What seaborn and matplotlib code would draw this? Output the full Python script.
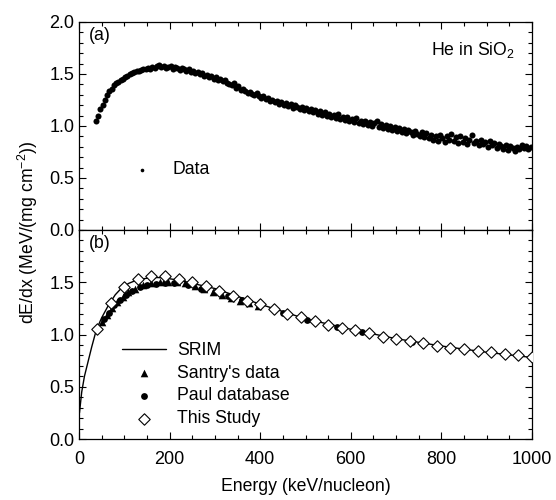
import numpy as np
import pandas as pd
import matplotlib
matplotlib.use('Agg')
import matplotlib.pyplot as plt
import seaborn as sns
from matplotlib.ticker import MultipleLocator

# Panel (a): measured stopping data, He in SiO2
data_energy = np.arange(37, 1000, 5)
data_value = [
    1.05, 1.10, 1.16, 1.20, 1.25, 1.30, 1.34, 1.36, 1.39, 1.41,
    1.42, 1.44, 1.45, 1.47, 1.48, 1.50, 1.51, 1.52, 1.53, 1.53,
    1.54, 1.55, 1.55, 1.56, 1.55, 1.57, 1.56, 1.58, 1.59, 1.57,
    1.58, 1.56, 1.57, 1.58, 1.55, 1.57, 1.56, 1.54, 1.56, 1.55,
    1.53, 1.55, 1.52, 1.53, 1.51, 1.52, 1.50, 1.51, 1.48, 1.49,
    1.47, 1.48, 1.45, 1.47, 1.44, 1.45, 1.43, 1.44, 1.41, 1.40,
    1.39, 1.41, 1.37, 1.38, 1.35, 1.36, 1.34, 1.32, 1.33, 1.31,
    1.30, 1.32, 1.29, 1.27, 1.29, 1.26, 1.27, 1.24, 1.25, 1.23,
    1.24, 1.21, 1.23, 1.20, 1.22, 1.19, 1.21, 1.17, 1.20, 1.18,
    1.16, 1.18, 1.15, 1.17, 1.14, 1.16, 1.13, 1.15, 1.12, 1.14,
    1.11, 1.13, 1.10, 1.12, 1.09, 1.11, 1.08, 1.12, 1.07, 1.09,
    1.06, 1.09, 1.05, 1.07, 1.04, 1.08, 1.03, 1.05, 1.02, 1.05,
    1.01, 1.04, 1.00, 1.03, 1.05, 0.99, 1.02, 0.98, 1.01, 0.97,
    1.00, 0.96, 0.99, 0.95, 0.98, 0.94, 0.97, 0.93, 0.96, 0.94,
    0.91, 0.95, 0.92, 0.90, 0.94, 0.89, 0.93, 0.88, 0.91, 0.87,
    0.90, 0.86, 0.91, 0.88, 0.85, 0.90, 0.87, 0.92, 0.86, 0.89,
    0.84, 0.90, 0.85, 0.88, 0.83, 0.87, 0.91, 0.84, 0.86, 0.82,
    0.87, 0.83, 0.85, 0.80, 0.86, 0.82, 0.84, 0.79, 0.83, 0.81,
    0.78, 0.82, 0.77, 0.81, 0.79, 0.76, 0.80, 0.78, 0.82, 0.79,
    0.81, 0.78, 0.80,
]

# Panel (b): SRIM curve
srim_energy = [1, 6, 12, 20, 28, 38, 50, 65, 80, 95, 110, 127, 145, 160,
               175, 190, 220, 250, 300, 400, 500, 600, 700, 800, 900, 1000]
srim_value = [0.25, 0.45, 0.60, 0.74, 0.88, 1.04, 1.16, 1.28, 1.38, 1.45,
              1.49, 1.52, 1.535, 1.545, 1.545, 1.54, 1.52, 1.49, 1.44,
              1.29, 1.15, 1.05, 0.96, 0.89, 0.83, 0.78]

# Santry's data
santry_energy = [50, 61, 72, 83, 98, 109, 124, 142, 160, 179, 197, 216,
                 234, 256, 275, 295, 315, 335, 355, 375, 395]
santry_value = [1.12, 1.19, 1.25, 1.31, 1.36, 1.41, 1.435, 1.47, 1.49,
                1.50, 1.505, 1.50, 1.49, 1.46, 1.44, 1.41, 1.38, 1.35,
                1.32, 1.30, 1.27]

# Paul database
paul_energy = [55, 66, 78, 90, 104, 118, 135, 150, 170, 190, 210, 240,
               270, 300, 330, 360, 400, 450, 503, 569, 625, 735]
paul_value = [1.15, 1.21, 1.28, 1.33, 1.38, 1.42, 1.45, 1.47, 1.48, 1.49,
              1.49, 1.47, 1.44, 1.41, 1.37, 1.33, 1.28, 1.21, 1.14, 1.07,
              1.02, 0.93]

# This study
study_energy = np.arange(40, 1001, 30)
study_value = [1.05, 1.30, 1.45, 1.53, 1.56, 1.56, 1.53, 1.50, 1.46, 1.42,
               1.37, 1.32, 1.29, 1.24, 1.20, 1.17, 1.13, 1.09, 1.06, 1.04,
               1.01, 0.98, 0.96, 0.94, 0.92, 0.89, 0.87, 0.86, 0.84, 0.83,
               0.81, 0.80, 0.78]

sns.set_theme(style='ticks')
plt.rcParams['font.family'] = ['Liberation Sans', 'DejaVu Sans']
plt.rcParams['mathtext.fontset'] = 'custom'
plt.rcParams['mathtext.rm'] = 'Liberation Sans'
plt.rcParams['mathtext.it'] = 'Liberation Sans'
plt.rcParams['axes.linewidth'] = 0.9
plt.rcParams['axes.edgecolor'] = 'black'
plt.rcParams['text.color'] = 'black'
plt.rcParams['axes.labelcolor'] = 'black'
plt.rcParams['xtick.color'] = 'black'
plt.rcParams['ytick.color'] = 'black'

fs = 13
fs_leg = 12.7

fig = plt.figure(figsize=(5.56, 5.0), dpi=100)
ax_a = fig.add_axes([79 / 556, 1 - 230 / 500, 453 / 556, 208 / 500])
ax_b = fig.add_axes([79 / 556, 1 - 439 / 500, 453 / 556, 209 / 500])

df_a = pd.DataFrame({'energy': data_energy, 'value': data_value})
sns.scatterplot(data=df_a, x='energy', y='value', ax=ax_a, color='black',
                s=19, linewidth=0, marker='o', label='Data', legend=False)

sns.lineplot(x=srim_energy, y=srim_value, ax=ax_b, color='black',
             linewidth=1.0, label='SRIM', legend=False)
sns.scatterplot(x=santry_energy, y=santry_value, ax=ax_b, color='black',
                marker='^', s=30, linewidth=0, label="Santry's data",
                legend=False)
sns.scatterplot(x=paul_energy, y=paul_value, ax=ax_b, color='black',
                marker='o', s=24, linewidth=0, label='Paul database',
                legend=False)
sns.scatterplot(x=study_energy, y=study_value, ax=ax_b, color='white',
                marker='D', s=34, edgecolor='black', linewidth=0.8,
                label='This Study', legend=False, zorder=5)

for ax in (ax_a, ax_b):
    ax.set_xlim(0, 1000)
    ax.set_ylim(0, 2.0)
    ax.xaxis.set_major_locator(MultipleLocator(200))
    ax.xaxis.set_minor_locator(MultipleLocator(50))
    ax.yaxis.set_major_locator(MultipleLocator(0.5))
    ax.yaxis.set_minor_locator(MultipleLocator(0.1))
    ax.tick_params(which='both', direction='in', top=True, right=True,
                   color='black', width=0.8, labelsize=fs, labelcolor='black')
    ax.tick_params(which='major', length=5)
    ax.tick_params(which='minor', length=2.8)
    ax.set_xlabel('')
    ax.set_ylabel('')
    for sp in ax.spines.values():
        sp.set_visible(True)
        sp.set_color('black')

ax_a.tick_params(labelbottom=False)
ax_a.set_yticks([0.0, 0.5, 1.0, 1.5, 2.0])
ax_a.set_yticklabels(['0.0', '0.5', '1.0', '1.5', '2.0'])
ax_b.set_yticks([0.0, 0.5, 1.0, 1.5])
ax_b.set_yticklabels(['0.0', '0.5', '1.0', '1.5'])
ax_b.set_xticks([0, 200, 400, 600, 800, 1000])
ax_b.set_xticklabels(['0', '200', '400', '600', '800', '1000'])
ax_b.tick_params(axis='x', pad=9)

ax_a.text(0.022, 0.975, '(a)', transform=ax_a.transAxes, fontsize=fs_leg,
          ha='left', va='top')
ax_b.text(0.022, 0.975, '(b)', transform=ax_b.transAxes, fontsize=fs_leg,
          ha='left', va='top')
ax_a.text(0.962, 0.865, 'He in SiO$_2$', transform=ax_a.transAxes,
          fontsize=fs_leg, ha='right', va='center')

leg_a = ax_a.legend(loc='center left', bbox_to_anchor=(0.12, 0.29),
                    frameon=False, fontsize=fs_leg, handlelength=1.0,
                    handletextpad=1.2, borderpad=0, borderaxespad=0,
                    markerscale=0.6)
leg_b = ax_b.legend(loc='upper left', bbox_to_anchor=(0.095, 0.465),
                    frameon=False, fontsize=fs_leg, handlelength=2.5,
                    handletextpad=0.6, labelspacing=0.33, borderpad=0,
                    borderaxespad=0)

ax_b.set_xlabel('Energy (keV/nucleon)', fontsize=fs_leg, color='black',
                labelpad=7)
fig.text(28 / 556, 1 - 232 / 500, 'dE/dx (MeV/(mg cm$^{-2}$))',
         rotation=90, fontsize=fs_leg, ha='center', va='center')

fig.savefig('out.png', dpi=100)
